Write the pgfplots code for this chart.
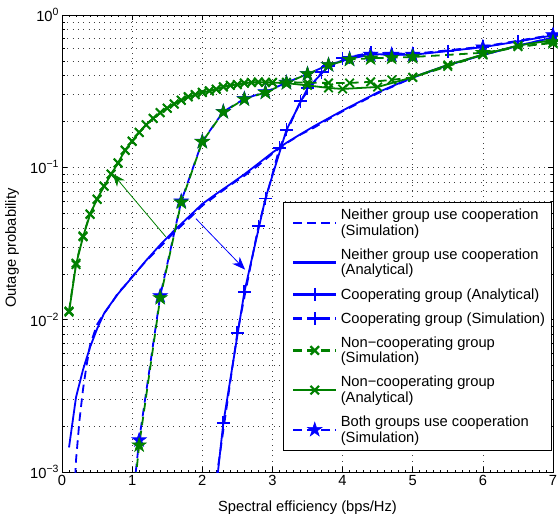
\documentclass[border=0pt]{standalone}
\usepackage{fontspec}
\setmainfont{Liberation Sans}
\usepackage{pgfplots}
\pgfplotsset{compat=1.18}
\usetikzlibrary{arrows.meta,calc}
\definecolor{mblue}{RGB}{0,0,255}
\definecolor{mgreen}{RGB}{0,128,0}
\newcommand\fs{\fontsize{14.7bp}{15.5bp}\selectfont}
\newcommand\sps[1]{\raisebox{0.42em}{\fontsize{10.5bp}{10.5bp}\selectfont #1}}

% filled five-pointed star, like the MATLAB pentagram
\pgfdeclareplotmark{pstar}{%
  \pgfpathmoveto{\pgfpointpolar{90}{\pgfplotmarksize}}%
  \pgfpathlineto{\pgfpointpolar{126}{0.382*\pgfplotmarksize}}%
  \pgfpathlineto{\pgfpointpolar{162}{\pgfplotmarksize}}%
  \pgfpathlineto{\pgfpointpolar{198}{0.382*\pgfplotmarksize}}%
  \pgfpathlineto{\pgfpointpolar{234}{\pgfplotmarksize}}%
  \pgfpathlineto{\pgfpointpolar{270}{0.382*\pgfplotmarksize}}%
  \pgfpathlineto{\pgfpointpolar{306}{\pgfplotmarksize}}%
  \pgfpathlineto{\pgfpointpolar{342}{0.382*\pgfplotmarksize}}%
  \pgfpathlineto{\pgfpointpolar{18}{\pgfplotmarksize}}%
  \pgfpathlineto{\pgfpointpolar{54}{0.382*\pgfplotmarksize}}%
  \pgfpathclose
  \pgfusepathqfillstroke}

\begin{document}
\begin{tikzpicture}
\begin{semilogyaxis}[
  name=ax,
  scale only axis, width=491bp, height=457bp,
  xmin=0, xmax=7, ymin=1e-3, ymax=1,
  xtick={0,1,2,3,4,5,6,7}, xticklabels={0,1,2,3,4,5,6,7},
  minor x tick num=9,
  ytick={1e-3,1e-2,1e-1,1},
  yticklabels={10\sps{−3},10\sps{−2},10\sps{−1},10\sps{0}},
  tick pos=both, tick align=inside,
  major tick length=5bp, minor tick length=2.5bp,
  every tick/.style={black, line width=0.6bp},
  xmajorgrids, ymajorgrids, yminorgrids,
  grid style={black!75, line width=0.6bp, dash pattern=on 0.8bp off 4.5bp},
  axis line style={black, line width=0.8bp},
  tick label style={font=\fs},
  xlabel={Spectral efficiency (bps/Hz)},
  ylabel={Outage probability},
  every axis x label/.style={at={(axis description cs:0.5,0)}, yshift=-36bp,
    anchor=center, font=\fs},
  every axis y label/.style={at={(axis description cs:0,0.49)}, xshift=-50bp,
    rotate=90, anchor=center, font=\fs},
  every axis plot/.append style={line width=1.8bp},
  legend cell align=left,
  legend style={at={(0.998,0.046)}, anchor=south east, draw=black, line width=0.8bp,
    fill=white, font=\fs, cells={align=left, anchor=west},
    nodes={inner xsep=3.5bp, inner ysep=6bp}, inner xsep=3bp, inner ysep=1bp},
  legend image code/.code={\path (-6bp,0bp);
    \draw[line width=2.2bp, mark repeat=2, mark phase=2, #1]
    plot coordinates {(0bp,0bp) (21.5bp,0bp) (43bp,0bp)};},
]
% Neither group use cooperation (Simulation)
\addplot[mblue, dash pattern=on 8.5bp off 5.5bp] coordinates {
 (0.15,4e-4) (0.2,1.2e-3) (0.25,2.2e-3) (0.3,3.5e-3) (0.35,5e-3) (0.4,6.8e-3)
 (0.5,9.3e-3) (0.6,0.0110) (0.7,0.0127) (0.8,0.0150) (0.9,0.0168) (1.0,0.0192)
 (1.2,0.0243) (1.4,0.0300) (1.6,0.0375) (1.8,0.0455) (2.0,0.0560) (2.2,0.0655)
 (2.4,0.0765) (2.6,0.0880) (2.8,0.1030) (3.0,0.1230) (3.2,0.1440) (3.4,0.1640)
 (3.6,0.1830) (3.8,0.2070) (4.0,0.2330) (4.5,0.3060) (5.0,0.3880) (5.5,0.4680)
 (6.0,0.5470) (6.5,0.6280) (7.0,0.7120)};
% Neither group use cooperation (Analytical)
\addplot[mblue] coordinates {
 (0.1,1.45e-3) (0.2,3.1e-3) (0.3,4.7e-3) (0.4,6.6e-3) (0.5,8.7e-3) (0.6,0.0110)
 (0.7,0.0128) (0.8,0.0148) (0.9,0.0168) (1.0,0.0190) (1.2,0.0245) (1.4,0.0310)
 (1.6,0.0385) (1.8,0.0470) (2.0,0.0575) (2.2,0.0670) (2.4,0.0775) (2.6,0.0900)
 (2.8,0.1060) (3.0,0.1250) (3.2,0.1450) (3.4,0.1650) (3.6,0.1870) (3.8,0.2100)
 (4.0,0.2360) (4.5,0.3100) (5.0,0.3900) (5.5,0.4700) (6.0,0.5450) (6.5,0.6300)
 (7.0,0.7100)};
% Cooperating group (Analytical)
\addplot[mblue, mark=+, mark size=6.5bp, mark options={solid}] coordinates {
 (2.2,8e-4) (2.3,2.1e-3) (2.6,0.0152) (2.9,0.0625) (3.2,0.176) (3.5,0.33)
 (3.8,0.46) (4.1,0.53) (4.4,0.555) (4.7,0.548) (5.0,0.548) (5.5,0.58)
 (6.0,0.615) (6.5,0.67) (7.0,0.735)};
% Cooperating group (Simulation)
\addplot[mblue, dash pattern=on 8.5bp off 5.5bp, mark=+, mark size=6.5bp, mark options={solid}] coordinates {
 (2.2,9e-4) (2.5,8.2e-3) (2.8,0.041) (3.1,0.134) (3.4,0.272) (3.7,0.42)
 (4.0,0.52) (4.4,0.565) (5.0,0.555) (6.0,0.62) (7.0,0.74)};
% Non-cooperating group (Simulation)
\addplot[mgreen, dash pattern=on 8.5bp off 5.5bp, mark=x, mark size=6bp, mark options={solid}] coordinates {
 (0.1,0.0114) (0.2,0.0235) (0.3,0.0355) (0.4,0.0495) (0.5,0.0615) (0.6,0.0755)
 (0.7,0.0905) (0.8,0.1065) (0.9,0.1290) (1.0,0.1490) (1.1,0.1690) (1.2,0.1905)
 (1.3,0.2090) (1.4,0.2290) (1.5,0.2440) (1.6,0.2610) (1.7,0.2750) (1.8,0.2910)
 (1.9,0.3000) (2.0,0.3110) (2.1,0.3170) (2.2,0.3260) (2.3,0.3370) (2.4,0.3460)
 (2.5,0.3490) (2.6,0.3580) (2.7,0.3600) (2.8,0.3630) (2.9,0.3610) (3.0,0.3610)
 (3.2,0.3620) (3.5,0.3600) (3.8,0.3580) (4.1,0.3580) (4.4,0.3640) (4.7,0.3750)
 (5.0,0.3900) (5.5,0.4600) (6.0,0.5500) (6.5,0.6200) (7.0,0.6550)};
% Non-cooperating group (Analytical)
\addplot[mgreen, mark=x, mark size=6bp, mark options={solid}] coordinates {
 (0.1,0.0112) (0.2,0.0230) (0.3,0.0350) (0.4,0.0490) (0.5,0.0620) (0.6,0.0750)
 (0.7,0.0900) (0.8,0.1070) (0.9,0.1300) (1.0,0.1480) (1.1,0.1700) (1.2,0.1900)
 (1.3,0.2100) (1.4,0.2280) (1.5,0.2450) (1.6,0.2600) (1.7,0.2760) (1.8,0.2900)
 (1.9,0.3000) (2.0,0.3100) (2.1,0.3180) (2.2,0.3250) (2.3,0.3380) (2.4,0.3450)
 (2.5,0.3500) (2.6,0.3570) (2.7,0.3600) (2.8,0.3620) (2.9,0.3620) (3.0,0.3600)
 (3.2,0.3570) (3.5,0.3450) (3.8,0.3320) (4.0,0.3270) (4.5,0.3370) (5.0,0.3900)
 (5.5,0.4700) (6.0,0.5500) (6.5,0.6300) (7.0,0.6850)};
% Both groups use cooperation (Simulation)
\addplot[mblue, dash pattern=on 8.5bp off 5.5bp, mark=pstar, mark size=7.5bp,
  mark options={solid, fill=mblue, line width=0.6bp}] coordinates {
 (0.8,8e-5) (1.1,1.62e-3) (1.4,0.0143) (1.7,0.060) (2.0,0.148) (2.3,0.232)
 (2.6,0.282) (2.9,0.312) (3.2,0.360) (3.5,0.410) (3.8,0.470) (4.1,0.515)
 (4.4,0.550) (4.7,0.550) (5.0,0.550) (6.0,0.615) (7.0,0.740)};
% both groups cooperating, second group (no legend entry)
\addplot[mgreen, dash pattern=on 8.5bp off 5.5bp, mark=pstar, mark size=7.5bp,
  mark options={solid, fill=mgreen, line width=0.6bp}, forget plot] coordinates {
 (0.8,7e-5) (1.1,1.50e-3) (1.4,0.0139) (1.7,0.059) (2.0,0.147) (2.3,0.231)
 (2.6,0.280) (2.9,0.310) (3.2,0.358) (3.5,0.410) (3.8,0.470) (4.1,0.510)
 (4.4,0.520) (4.7,0.525) (5.0,0.530) (6.0,0.565) (7.0,0.665)};
\legend{Neither group use cooperation\\(Simulation),
  Neither group use cooperation\\(Analytical),
  Cooperating group (Analytical),
  Cooperating group (Simulation),
  Non−cooperating group\\(Simulation),
  Non−cooperating group\\(Analytical),
  Both groups use cooperation\\(Simulation)}
\draw[mgreen, line width=0.8bp, -{Stealth[length=13bp, width=10bp, inset=4bp]}]
  (axis cs:1.48,0.035) -- (axis cs:0.72,0.091);
\draw[mblue, line width=0.8bp, -{Stealth[length=13bp, width=10bp, inset=4bp]}]
  (axis cs:1.91,0.046) -- (axis cs:2.61,0.0213);
\end{semilogyaxis}
\pgfresetboundingbox
\path[use as bounding box] ($(ax.south west)+(-62bp,-42bp)$) rectangle ($(ax.north east)+(5bp,15bp)$);
\end{tikzpicture}
\end{document}
